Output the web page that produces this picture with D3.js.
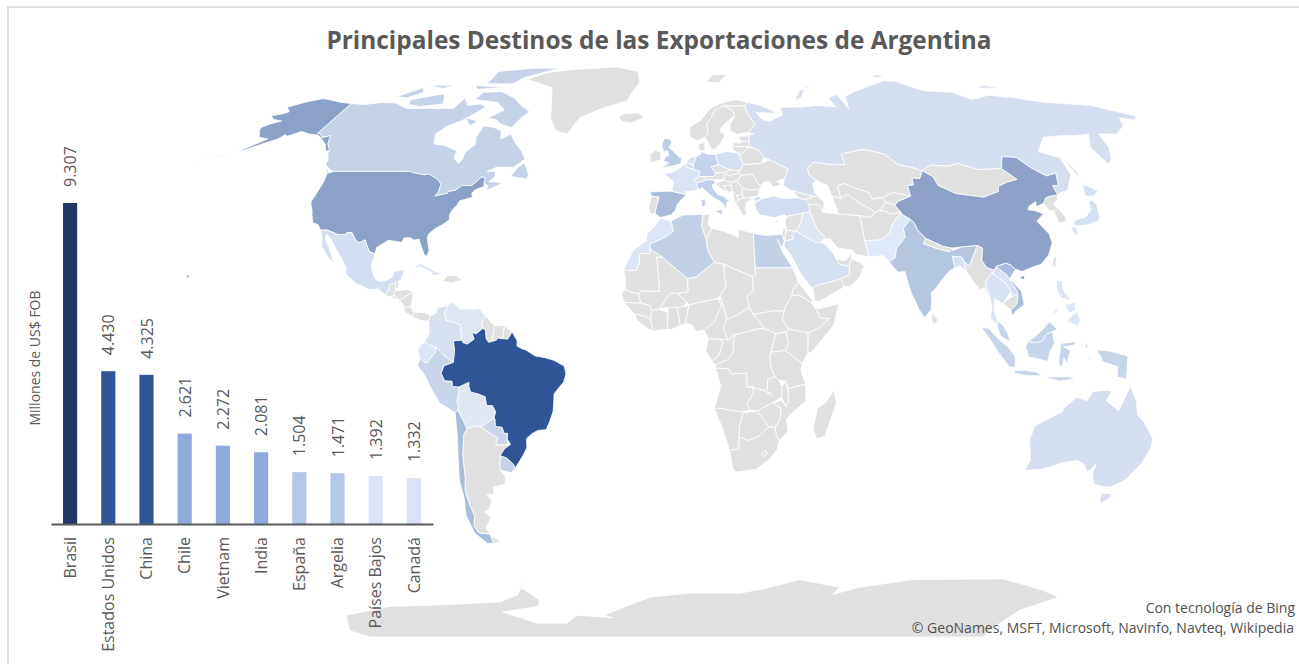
<!DOCTYPE html>
<html>
<head>
<meta charset="utf-8">
<script src="https://cdn.jsdelivr.net/npm/d3@7"></script>
<style>
  body { margin: 0; background: #fff; }
  svg { display: block; font-family: "Open Sans", "Noto Sans", sans-serif; }
  .map { filter: blur(0.5px); }
</style>
</head>
<body>
<svg id="chart" width="1299" height="664"></svg>
<script>
// bar chart values
const categories = ["Brasil", "Estados Unidos", "China", "Chile", "Vietnam", "India", "España", "Argelia", "Países Bajos", "Canadá"];
const exportValues = [9307, 4430, 4325, 2621, 2272, 2081, 1504, 1471, 1392, 1332];
const barColors = ["#1f3864", "#2f5597", "#2f5597", "#8faadc", "#8faadc", "#8faadc", "#b4c7e7", "#b4c7e7", "#dae3f3", "#dae3f3"];

// country shading, everything else is the no-data grey
const shadeByCountry = {
  Brasil: "#2f5597", USA: "#8aa2c8", China: "#8ea2c9", Canada: "#c5d2e8", Russia: "#d5deef", India: "#b4c6e0",
  Spain: "#aabcdc", Chile: "#a9bedf", Algeria: "#c2d0e8", Germany: "#c5d3ea", Poland: "#d4dff0", France: "#dae3f3",
  Mexico: "#d3dff0", Australia: "#d5deef", Peru: "#c9d5ea", Colombia: "#d7e0ef", Venezuela: "#dde5f3", Ecuador: "#dce5f4",
  Bolivia: "#dfe6f4", Paraguay: "#c9d6eb", Uruguay: "#c5d3ea", Egypt: "#c2d0e8", Saudi: "#d4dff0", Iraq: "#dde5f3",
  Turkey: "#d1dcef", Morocco: "#dce5f4", Pakistan: "#dfe8f6", Indonesia: "#c7d5ea", Malaysia: "#c5d3ea", Vietnam: "#a6bce0",
  Thailand: "#d8e2f3", Philippines: "#dde6f4", Japan: "#d5e0f2", UK: "#bccde8", Italy: "#c0d0e8", Netherlands: "#d8e0f0",
  Bangladesh: "#d5e0f3", Belgium: "#d3def0", Cuba: "#dce5f4", Hawaii: "#8aa2c8", Laos: "#d8e2f3", Hainan: "#8ea2c9"
};

// rough country outlines, [lon, lat]
const antarcticaShapes = [
  ["Antarctica", [[-180, -85.5], [-162, -78.4], [-133.5, -75.1], [-103, -74.4], [-80.5, -73.5], [-70.6, -71.2], [-60, -64], [-67, -68.6], [-62, -72.9], [-64.6, -75.1], [-83.7, -77.2], [-72.4, -81.8], [-57, -81.8], [-49, -78.4], [-32, -79.4], [-36, -78.4], [-12, -71.9], [5.7, -70.5], [27.6, -70.5], [38.6, -68.9], [51, -66.1], [69.6, -68.6], [68.7, -70.9], [78, -68.6], [98, -66.1], [135.5, -65.9], [158, -69.5], [170, -71.9], [163, -76.5], [172, -86], [180, -90], [-180, -90]]]
];

const northAmericaShapes = [
  ["Greenland", [[-73, 78.2], [-66, 81], [-55, 82.3], [-32, 83.6], [-20, 81.5], [-18, 77], [-20, 74], [-22, 70.5], [-32, 68], [-40, 65], [-43, 60], [-48, 61], [-52, 65], [-54, 69], [-58, 75]]],
  ["Iceland", [[-24, 65.5], [-22, 66.4], [-16, 66.5], [-13.5, 65], [-18.7, 63.4], [-22.5, 63.9]]],
  ["Canada", [[-141, 69.6], [-135, 69.3], [-128, 70], [-122, 69.8], [-115, 68], [-108, 68], [-100, 68], [-95, 68], [-94, 71.5], [-90, 69], [-85, 69.5], [-81.5, 68.5], [-85, 66], [-87, 64.5], [-92, 62.5], [-94.5, 60], [-92.5, 57], [-88, 56.5], [-82.5, 55], [-82, 52.8], [-79.5, 51.3], [-78.7, 52.5], [-79, 54.5], [-76.7, 57], [-78, 59], [-77.5, 62.5], [-73, 62], [-69.5, 61], [-68, 58.5], [-65, 60], [-62, 57.5], [-58, 54.8], [-55.8, 52.5], [-59, 50.2], [-65, 50.2], [-68, 49], [-65, 49], [-64.5, 47.5], [-66, 46], [-64, 46], [-61, 45.8], [-63.5, 44.6], [-66, 43.6], [-66, 45], [-67.5, 45.3], [-67.8, 47.1], [-69.2, 47.4], [-70.3, 46.2], [-71.5, 45], [-75, 45], [-76.8, 43.6], [-79, 43.3], [-79, 42.8], [-83.1, 42], [-82.4, 43], [-82.5, 45.3], [-83.5, 46.1], [-84.9, 46.9], [-88.4, 48.3], [-89.6, 48], [-92, 48.3], [-94.6, 48.7], [-95.2, 49], [-122.8, 49], [-124.5, 49.5], [-127.5, 51], [-128, 52.5], [-130, 54.3], [-130, 55], [-133, 57], [-135, 59.5], [-137.5, 58.9], [-139, 59.8], [-141, 60.3]]],
  ["Canada", [[-80, 73.7], [-72, 71.5], [-67, 69], [-62, 67], [-64, 65], [-66, 62], [-71, 63], [-74, 64.5], [-78, 65], [-73, 67.5], [-78, 70], [-89, 71], [-88, 73.5]]],
  ["Canada", [[-117, 71], [-105, 73], [-101, 69.5], [-110, 68.7], [-116, 69.3]]],
  ["Canada", [[-125, 72], [-118, 75], [-115, 73.5], [-120, 71.5]]],
  ["Canada", [[-90, 76.5], [-78, 76.5], [-75, 79], [-65, 82], [-62, 83], [-75, 83], [-92, 81.5]]],
  ["Canada", [[-95, 76], [-80, 75], [-92, 74.5]]],
  ["Canada", [[-118, 76], [-105, 76], [-108, 74.8]]],
  ["Canada", [[-59, 47.6], [-53, 46.8], [-52.8, 48], [-55.5, 51.5], [-57.5, 50]]],
  ["Canada", [[-87, 65], [-81, 64], [-83, 62.5]]],
  ["Canada", [[-128.3, 50.7], [-123.5, 48.4], [-125, 48.7]]],
  ["USA", [[-141, 69.6], [-141, 60.3], [-139, 59.8], [-137.5, 58.9], [-135, 59.5], [-133, 57], [-130, 55], [-131.5, 55], [-134, 57], [-136.5, 58.2], [-140, 59.7], [-144, 60], [-148, 60.8], [-151.5, 59.3], [-153, 59.8], [-154, 58.5], [-158, 57], [-162, 55.2], [-164.5, 54.6], [-162, 56], [-158, 58.5], [-162, 59], [-165, 61], [-166, 62], [-164, 63.2], [-161, 64], [-165, 64.5], [-168, 65.6], [-164, 66.5], [-163, 67], [-166.5, 68.4], [-162, 70], [-156.5, 71.3], [-152, 70.8], [-146, 70]]],
  ["USA", [[-164.5, 54.6], [-170, 53], [-178, 51.6], [-172, 52.7]]],
  ["USA", [[-124.7, 48.4], [-122.8, 49], [-95.2, 49], [-94.6, 48.7], [-92, 48.3], [-89.6, 48], [-88.4, 48.3], [-84.9, 46.9], [-83.5, 46.1], [-82.5, 45.3], [-82.4, 43], [-83.1, 42], [-79, 42.8], [-79, 43.3], [-76.8, 43.6], [-75, 45], [-71.5, 45], [-70.3, 46.2], [-69.2, 47.4], [-67.8, 47.1], [-67.5, 45.3], [-67, 44.8], [-70, 43.7], [-70.7, 42.7], [-70, 41.7], [-72, 41.2], [-74, 40.6], [-74.5, 39.3], [-75.5, 38.2], [-76, 37], [-75.6, 35.3], [-77.5, 34], [-79.5, 33], [-81.2, 31.5], [-81.4, 30.3], [-80, 26.8], [-80.5, 25.2], [-81.5, 25.9], [-82.8, 28], [-84, 30], [-85.5, 29.7], [-87, 30.4], [-89, 30.3], [-89.3, 29.1], [-91, 29.3], [-93.8, 29.7], [-95, 29], [-97.2, 27.7], [-97.2, 25.9], [-99.2, 26.5], [-100.5, 28.3], [-101.5, 29.8], [-103, 29], [-104.5, 29.6], [-106.5, 31.8], [-108.2, 31.8], [-108.2, 31.3], [-111, 31.3], [-114.8, 32.5], [-117.1, 32.5], [-118.5, 34], [-120.6, 34.6], [-122, 36.8], [-122.5, 37.8], [-123.8, 39.5], [-124.4, 40.4], [-124.2, 42], [-124, 46]]],
  ["Hawaii", [[-156, 20.2], [-155, 19.7], [-155.7, 19]]],
  ["Mexico", [[-117.1, 32.5], [-114.8, 32.5], [-111, 31.3], [-108.2, 31.3], [-108.2, 31.8], [-106.5, 31.8], [-104.5, 29.6], [-103, 29], [-101.5, 29.8], [-100.5, 28.3], [-99.2, 26.5], [-97.2, 25.9], [-97.8, 22.5], [-96, 19], [-94.5, 18.2], [-92, 18.6], [-90.5, 19.5], [-90.3, 21], [-87, 21.5], [-87.7, 18.5], [-88.2, 18.4], [-89.2, 17.9], [-91, 17.2], [-91, 16], [-92.2, 14.5], [-94.5, 16.2], [-97, 15.9], [-101.5, 17.5], [-105.5, 20.3], [-105.6, 22], [-109, 26], [-112.7, 30], [-114.7, 31.6], [-114.5, 30], [-112.5, 27.5], [-110.3, 24], [-109.5, 23], [-112, 24.8], [-115, 28], [-116, 31]]],
  ["Guatemala", [[-92.2, 14.5], [-91, 16], [-91, 17.2], [-89.2, 17.9], [-89, 15.9], [-88.2, 15.7], [-89.3, 14.4], [-90.5, 13.9]]],
  ["Belize", [[-89.2, 17.9], [-88.2, 18.4], [-88.3, 16.5], [-89, 15.9]]],
  ["Honduras", [[-89, 15.9], [-88.2, 15.7], [-85, 16], [-83.2, 15], [-84.5, 14.7], [-87.3, 13], [-87.7, 13.2], [-89.3, 14.4]]],
  ["Salvador", [[-90.1, 13.7], [-89.3, 14.4], [-87.7, 13.2]]],
  ["Nicaragua", [[-87.3, 13], [-84.5, 14.7], [-83.2, 15], [-83.7, 11], [-85.7, 11.1]]],
  ["CostaRica", [[-85.7, 11.1], [-83.7, 11], [-82.6, 9.6], [-83, 8.4], [-85.7, 9.9]]],
  ["Panama", [[-83, 8.4], [-82.6, 9.6], [-79.5, 9.6], [-77.3, 8.7], [-77.9, 7.2], [-80, 7.3], [-81.5, 7.8]]],
  ["Cuba", [[-85, 21.9], [-82, 23.2], [-77, 21], [-74.2, 20.2], [-77.7, 19.9], [-78, 20.7], [-82, 22.3]]],
  ["Haiti", [[-74.4, 18.4], [-73, 19.9], [-70, 19.8], [-68.4, 18.6], [-71.5, 17.7]]]
];

const southAmericaShapes = [
  ["Colombia", [[-71.5, 12.4], [-72.5, 11.2], [-75, 11], [-75.7, 9.4], [-77.3, 8.7], [-77.9, 7.2], [-77.5, 4], [-78.8, 1.4], [-77.1, 0.4], [-75.3, -0.1], [-74, -1.2], [-73, -2.3], [-70, -4.3], [-69.5, -1], [-69.9, 1.7], [-67.2, 1.9], [-67.8, 6.2], [-70, 6.9], [-72.4, 7.4], [-72.9, 9.5]]],
  ["Venezuela", [[-71.5, 12.4], [-70, 12.1], [-68, 10.6], [-64, 10.5], [-62, 10.7], [-60, 8.5], [-61.2, 6.7], [-60.7, 5.2], [-62.9, 3.6], [-64.2, 4.1], [-63.4, 2.2], [-65.5, 0.8], [-66.9, 1.2], [-67.2, 1.9], [-67.8, 6.2], [-70, 6.9], [-72.4, 7.4], [-72.9, 9.5]]],
  ["Guyana", [[-60, 8.5], [-57.2, 6], [-57.3, 4], [-58, 1.5], [-58.9, 1.3], [-59.7, 2.3], [-59.9, 4.5], [-60.7, 5.2], [-61.2, 6.7]]],
  ["Suriname", [[-57.2, 6], [-54, 5.9], [-54.6, 2.3], [-55.9, 2.5], [-56.5, 1.9], [-58, 1.5], [-57.3, 4]]],
  ["Guiana", [[-54, 5.9], [-51.6, 4.2], [-52.9, 2.2], [-54.6, 2.3]]],
  ["Ecuador", [[-78.8, 1.4], [-77.1, 0.4], [-75.3, -0.1], [-75.5, -1.5], [-78.4, -4.5], [-80.3, -3.4], [-81, -1], [-80, 0.7]]],
  ["Peru", [[-75.3, -0.1], [-74, -1.2], [-73, -2.3], [-70, -4.3], [-72.9, -5.2], [-73.9, -7.3], [-72.9, -9.4], [-70.6, -9.5], [-70.6, -11], [-68.6, -11.1], [-68.6, -12.5], [-69.5, -15.4], [-69, -16.5], [-69.5, -17.5], [-70.4, -18.3], [-75, -15.5], [-77, -12.2], [-79, -8], [-81.3, -5], [-80.3, -3.4], [-78.4, -4.5], [-75.5, -1.5]]],
  ["Bolivia", [[-68.6, -11.1], [-65.3, -9.8], [-65.4, -10.9], [-65, -12.5], [-62.8, -13], [-60.5, -13.8], [-60.2, -16.3], [-58.4, -16.3], [-57.5, -18], [-58.2, -19.8], [-62.6, -22.2], [-65, -22.1], [-67.2, -22.8], [-68.3, -20], [-69.5, -17.5], [-69, -16.5], [-69.5, -15.4], [-68.6, -12.5]]],
  ["Paraguay", [[-58.2, -19.8], [-57.9, -20], [-58, -22.1], [-55.9, -22.3], [-55.4, -24], [-54.3, -24], [-54.6, -25.6], [-54.7, -27.2], [-58.6, -27.3], [-57.6, -25.3], [-60, -24], [-62.6, -22.2]]],
  ["Uruguay", [[-58.4, -33.5], [-57.6, -30.2], [-55.6, -30.9], [-53.7, -32.6], [-53.4, -33.7], [-54.9, -35], [-58.4, -34.2]]],
  ["Chile", [[-70.4, -18.3], [-69.5, -17.5], [-68.3, -20], [-67.2, -22.8], [-68.4, -24.5], [-69.7, -30], [-70.5, -36], [-71.8, -40], [-71.8, -44], [-71.5, -47], [-73, -50], [-72.3, -52], [-68.5, -52.3], [-68.6, -54.9], [-66.5, -55.2], [-71, -55], [-74, -52], [-74.5, -47], [-73, -42], [-72.8, -37], [-71.5, -31], [-70.5, -25]]],
  ["Argentina", [[-65, -22.1], [-62.6, -22.2], [-60, -24], [-57.6, -25.3], [-58.6, -27.3], [-54.7, -27.2], [-53.8, -27.1], [-55.9, -28.3], [-57.6, -30.2], [-58.4, -33.5], [-58.4, -34.2], [-57.2, -36], [-57.6, -38], [-62, -39], [-62.5, -41], [-65, -41], [-63.7, -42.5], [-65.3, -45], [-67.5, -46], [-65.8, -47.5], [-69, -50.5], [-68.5, -52.3], [-72.3, -52], [-73, -50], [-71.5, -47], [-71.8, -44], [-71.8, -40], [-70.5, -36], [-69.7, -30], [-68.4, -24.5], [-67.2, -22.8]]],
  ["Argentina", [[-68.6, -52.7], [-65.2, -54.7], [-68.6, -54.9]]],
  ["Brasil", [[-60.7, 5.2], [-59.9, 4.5], [-59.7, 2.3], [-58.9, 1.3], [-58, 1.5], [-56.5, 1.9], [-55.9, 2.5], [-54.6, 2.3], [-52.9, 2.2], [-51.6, 4.2], [-50, 1.8], [-50, 0.3], [-48.5, -0.5], [-47.5, -0.7], [-44.3, -2.5], [-41.5, -2.9], [-38.5, -3.7], [-35.3, -5.3], [-34.8, -7.5], [-35.6, -9.8], [-37.3, -11.5], [-38.7, -13], [-39, -16], [-39.3, -18], [-40.7, -21], [-41.9, -23], [-44.5, -23.2], [-46.5, -24.1], [-48.4, -25.5], [-48.6, -28], [-50, -30], [-52, -32.2], [-53.4, -33.7], [-53.7, -32.6], [-55.6, -30.9], [-57.6, -30.2], [-55.9, -28.3], [-53.8, -27.1], [-54.6, -25.6], [-54.3, -24], [-55.4, -24], [-55.9, -22.3], [-58, -22.1], [-57.9, -20], [-58.2, -19.8], [-57.5, -18], [-58.4, -16.3], [-60.2, -16.3], [-60.5, -13.8], [-62.8, -13], [-65, -12.5], [-65.4, -10.9], [-65.3, -9.8], [-68.6, -11.1], [-70.6, -11], [-70.6, -9.5], [-72.9, -9.4], [-73.9, -7.3], [-72.9, -5.2], [-70, -4.3], [-69.5, -1], [-69.9, 1.7], [-67.2, 1.9], [-66.9, 1.2], [-65.5, 0.8], [-63.4, 2.2], [-64.2, 4.1], [-62.9, 3.6]]]
];

const europeShapes = [
  ["Spain", [[-9.2, 43.2], [-1.8, 43.4], [3.2, 42.4], [0.2, 39.8], [-0.6, 38], [-2, 36.8], [-5.5, 36], [-7.4, 37.2], [-7, 38.9], [-6.2, 41.7], [-8.8, 42]]],
  ["Portugal", [[-8.8, 42], [-6.2, 41.7], [-7, 38.9], [-7.4, 37.2], [-9, 37], [-9.5, 38.8]]],
  ["France", [[-4.7, 48.4], [-1.7, 48.7], [1.5, 50.2], [2.5, 51], [4.2, 50], [6, 49.6], [8.2, 49], [7.6, 47.6], [6, 46.3], [6.8, 45.8], [7.5, 43.8], [3, 43.2], [3.2, 42.4], [-1.8, 43.4], [-1.2, 46]]],
  ["Belgium", [[2.5, 51], [4, 51.4], [5.9, 50.7], [6, 49.6], [4.2, 50]]],
  ["Netherlands", [[3.5, 51.5], [4.8, 53], [7.1, 53.3], [6, 51], [4, 51.4]]],
  ["Germany", [[6, 51], [7.1, 53.3], [8.8, 54], [9, 54.9], [11, 54], [14.2, 53.9], [15, 51], [12.3, 50.2], [13.8, 48.6], [13, 47.5], [9.6, 47.5], [7.6, 47.6], [8.2, 49], [6, 49.6], [5.9, 50.7]]],
  ["Switzerland", [[6, 46.3], [7.6, 47.6], [9.6, 47.5], [10.4, 46.6], [8.5, 46], [6.8, 45.8]]],
  ["Denmark", [[8.2, 55.5], [9, 54.9], [10.5, 55], [10.5, 57.5], [8.2, 57]]],
  ["Austria", [[9.6, 47.5], [13, 47.5], [13.8, 48.6], [17, 48.7], [16.5, 46.8], [12.5, 46.6], [10.4, 46.6]]],
  ["Italy", [[7.5, 43.8], [6.8, 45.8], [8.5, 46], [10.4, 46.6], [12.5, 46.6], [13.7, 45.7], [12.3, 45.2], [12.6, 44], [14, 42.5], [16, 41.9], [18.4, 40.2], [17, 40.5], [16.6, 38.9], [15.8, 38], [16, 39.5], [14.5, 40.6], [12.3, 41.7], [10.5, 43], [8.8, 44.4]]],
  ["Italy", [[12.5, 38], [15.5, 38.2], [15, 36.7]]],
  ["Italy", [[8.2, 41], [9.7, 41], [9.5, 39.2], [8.4, 39]]],
  ["UK", [[-5, 58.6], [-3, 58.6], [-2, 57.6], [-3, 56], [-1.3, 54.8], [0.3, 53.5], [1.7, 52.7], [1.3, 51.2], [-1, 50.7], [-5.5, 50], [-3, 51.5], [-5, 52], [-4.2, 53.2], [-3, 53.6], [-3.5, 54.9], [-5, 54.8], [-5.8, 56.5]]],
  ["Ireland", [[-10, 54], [-8, 55.2], [-6, 54.5], [-6, 52.3], [-9.8, 51.5]]],
  ["Poland", [[14.2, 53.9], [18.5, 54.8], [23, 54.3], [24, 51], [22.5, 49.1], [19, 49.4], [15, 51]]],
  ["Czechia", [[12.3, 50.2], [15, 51], [19, 49.4], [17, 48.7], [13.8, 48.6]]],
  ["Slovakia", [[17, 48.7], [19, 49.4], [22.5, 49.1], [22, 48.4], [18, 47.8]]],
  ["Hungary", [[16.5, 46.8], [17, 48.7], [18, 47.8], [22, 48.4], [22.8, 47.9], [21, 46.2], [18.8, 45.9], [16.5, 46.4]]],
  ["Romania", [[22.8, 47.9], [27, 48.2], [28.2, 45.5], [29.5, 45], [28.6, 43.8], [25, 43.7], [22.7, 44.2], [21, 46.2]]],
  ["Bulgaria", [[22.7, 44.2], [25, 43.7], [28.6, 43.8], [27.6, 42], [24, 41.5], [22.8, 41.5], [22.4, 42.5]]],
  ["Croatia", [[13.7, 45.7], [16.5, 46.4], [18.8, 45.9], [19, 44.9], [16, 45], [17.8, 43], [15.5, 44], [13.6, 45.2]]],
  ["Bosnia", [[16, 45], [19, 44.9], [19.2, 43.3], [17.8, 43]]],
  ["Serbia", [[18.8, 45.9], [21, 46.2], [22.7, 44.2], [22.4, 42.5], [20.5, 42.2], [19.2, 43.3], [19, 44.9]]],
  ["Albania", [[19.2, 43.3], [20.5, 42.2], [21, 40.9], [19.8, 39.8], [19.4, 41.5]]],
  ["Macedonia", [[20.5, 42.2], [22.4, 42.5], [22.8, 41.5], [21, 40.9]]],
  ["Greece", [[19.8, 39.8], [21, 40.9], [22.8, 41.5], [24, 41.5], [26.3, 41.5], [23.5, 40.3], [23, 38.5], [23.2, 36.5], [21.7, 36.8], [21, 38.5]]],
  ["Ukraine", [[24, 51], [30.5, 51.3], [34, 52.3], [40, 49.7], [38, 47], [35, 46.2], [36.5, 45.3], [33.5, 44.5], [32.5, 46], [30.5, 46], [29.5, 45], [28.2, 45.5], [27, 48.2], [22.8, 47.9], [22, 48.4], [22.5, 49.1]]],
  ["Belarus", [[23, 54.3], [24, 54], [26.6, 55.7], [28, 56], [31, 55], [32, 53], [30.5, 51.3], [24, 51]]],
  ["Lithuania", [[21, 55.3], [21, 56.3], [26, 56.3], [26.6, 55.7], [24, 54], [23, 54.3]]],
  ["Latvia", [[21, 56.3], [21.5, 57.5], [24.3, 57.2], [24.5, 58], [27.5, 57.6], [28, 56], [26, 56.3]]],
  ["Estonia", [[23.5, 59.2], [28, 59.5], [27.5, 57.6], [24.5, 58]]],
  ["Norway", [[5, 59], [5, 62], [10, 64.5], [14, 68], [20, 70], [26, 71], [31, 70], [29, 69], [25, 68.7], [20, 69], [16, 67.5], [14, 65], [12, 63], [12.2, 60.5], [11, 59], [8, 58]]],
  ["Sweden", [[11, 59], [12.2, 60.5], [12, 63], [14, 65], [16, 67.5], [20, 69], [23.5, 67.5], [24, 65.8], [21.5, 64.5], [17.5, 62], [17.2, 60.5], [18.8, 59.8], [16.5, 57], [14.3, 55.5], [13, 55.4]]],
  ["Finland", [[23.5, 67.5], [20, 69], [25, 68.7], [29, 69], [29.5, 66.5], [31.5, 62.8], [28, 60.5], [23, 59.9], [21, 61], [21.5, 63], [24, 65.8]]],
  ["Svalbard", [[14, 77], [18, 80], [25, 80], [20, 77]]]
];

const africaShapes = [
  ["Morocco", [[-5.9, 35.8], [-2, 35.1], [-1.2, 32.2], [-3, 31], [-5.5, 29.8], [-8.7, 28.7], [-8.7, 26], [-12, 26], [-12, 23.5], [-13, 21.3], [-17, 21.3], [-16, 23.5], [-14.5, 26.2], [-13, 27.7], [-10, 29.5], [-9.8, 31.5], [-6.8, 34]]],
  ["Algeria", [[-2, 35.1], [2, 36.7], [8.6, 36.9], [8.2, 33.5], [9.5, 30], [9.9, 27], [12, 23.5], [6, 19.5], [3.3, 19], [-4.8, 25], [-8.7, 27.3], [-8.7, 28.7], [-5.5, 29.8], [-3, 31], [-1.2, 32.2]]],
  ["Tunisia", [[8.6, 36.9], [11, 37], [10.2, 34.3], [11.5, 33], [9.5, 30], [8.2, 33.5]]],
  ["Libya", [[11.5, 33], [15, 32.3], [20, 30.5], [20, 32.8], [25, 31.6], [25, 20], [24, 19.5], [15, 23], [12, 23.5], [9.9, 27], [9.5, 30]]],
  ["Egypt", [[25, 31.6], [29, 31], [32.3, 31.2], [34.3, 31.3], [34.9, 29.5], [33.8, 27.8], [32.6, 30], [34, 26.5], [37, 22], [31.5, 22], [25, 22]]],
  ["Sudan", [[25, 22], [31.5, 22], [37, 22], [38.5, 18], [36.8, 16], [36.2, 14.3], [34, 11], [33.7, 10], [30, 10], [27, 9.5], [24, 9], [22.8, 11], [22, 14], [24, 15.7], [24, 19.5], [25, 20]]],
  ["SouthSudan", [[24, 9], [27, 9.5], [30, 10], [33.7, 10], [33, 7.7], [35, 5], [34, 4.2], [31, 3.7], [27.4, 5.1]]],
  ["Chad", [[15, 23], [24, 19.5], [24, 15.7], [22, 14], [22.8, 11], [19, 9], [15.5, 7.5], [15, 9.9], [14, 13], [13.5, 14.3], [15.5, 16.9], [15, 20]]],
  ["Niger", [[3.3, 19], [6, 19.5], [12, 23.5], [15, 23], [15, 20], [15.5, 16.9], [13.5, 14.3], [13, 13.5], [9, 12.8], [3.7, 11.7], [3, 12.5], [0.2, 14.9], [3.5, 15.4]]],
  ["Mali", [[-4.8, 25], [3.3, 19], [3.5, 15.4], [0.2, 14.9], [-2, 15], [-5.5, 10.5], [-8, 10.2], [-8.5, 11.5], [-11.4, 12.2], [-12.2, 14.7], [-11.4, 15.6], [-5.5, 15.5], [-6.5, 25]]],
  ["Mauritania", [[-17, 21.3], [-13, 21.3], [-12, 23.5], [-12, 26], [-8.7, 26], [-8.7, 27.3], [-4.8, 25], [-6.5, 25], [-5.5, 15.5], [-11.4, 15.6], [-12.2, 14.7], [-16.5, 16], [-16.3, 19]]],
  ["Senegal", [[-16.5, 16], [-12.2, 14.7], [-11.4, 12.2], [-16.7, 12.4], [-17.5, 14.7]]],
  ["Guinea", [[-16.7, 12.4], [-11.4, 12.2], [-8.5, 11.5], [-8, 10.2], [-8.3, 7.6], [-10, 8.5], [-13.3, 9.2]]],
  ["Liberia", [[-13.3, 9.2], [-10, 8.5], [-8.3, 7.6], [-7.5, 4.4], [-9, 5], [-12.5, 7.4]]],
  ["Ivory", [[-8.3, 7.6], [-8, 10.2], [-5.5, 10.5], [-2.8, 9.5], [-3, 5], [-7.5, 4.4]]],
  ["Burkina", [[-5.5, 10.5], [-2, 15], [0.2, 14.9], [3, 12.5], [2.2, 11.2], [0, 11], [-2.8, 11]]],
  ["Ghana", [[-2.8, 11], [0, 11], [1.1, 6], [-2, 4.8], [-3, 5], [-2.8, 9.5]]],
  ["Benin", [[0, 11], [2.2, 11.2], [3.7, 11.7], [2.7, 6.4], [1.1, 6]]],
  ["Nigeria", [[2.7, 6.4], [3.7, 11.7], [9, 12.8], [13, 13.5], [14, 11.5], [11.5, 6.8], [8.5, 4.7], [6, 4.3], [4.5, 6.3]]],
  ["Cameroon", [[8.5, 4.7], [11.5, 6.8], [14, 11.5], [13, 13.5], [14, 13], [15, 9.9], [15.5, 7.5], [14.5, 5], [16, 2], [13, 2.2], [9.8, 2.3]]],
  ["CAR", [[14.5, 5], [15.5, 7.5], [19, 9], [22.8, 11], [24, 9], [27.4, 5.1], [25, 5], [19, 3.5], [18, 3.5], [16, 2]]],
  ["Gabon", [[9.8, 2.3], [13, 2.2], [14.4, 1.4], [13, -2.5], [11, -3.9], [9, -1]]],
  ["Congo", [[13, 2.2], [16, 2], [18, 3.5], [17.5, -1.5], [16, -3.5], [12, -5], [11, -3.9], [13, -2.5], [14.4, 1.4]]],
  ["DRC", [[12, -5.9], [12, -5], [16, -3.5], [17.5, -1.5], [18, 3.5], [19, 3.5], [25, 5], [27.4, 5.1], [31, 3.7], [29.6, -0.5], [29, -2.8], [29.5, -6], [30.7, -8.2], [28.5, -9], [28.4, -12], [29.8, -13.4], [27.2, -12], [22, -11], [21.8, -7.3], [17, -7.5], [16, -6]]],
  ["Uganda", [[31, 3.7], [34, 4.2], [34.9, 1], [33.9, -1], [29.6, -1.4], [29.6, -0.5]]],
  ["Kenya", [[34, 4.2], [35, 5], [41, 3.9], [41, -1.7], [39.2, -4.6], [33.9, -1], [34.9, 1]]],
  ["Ethiopia", [[33, 7.7], [33.7, 10], [34, 11], [36.2, 14.3], [38.5, 14.5], [42, 12.5], [43, 11.5], [45, 8], [48, 8], [44, 5], [41, 3.9], [35, 5]]],
  ["Eritrea", [[36.2, 14.3], [36.8, 16], [38.5, 18], [43, 12.7], [42, 12.5], [38.5, 14.5]]],
  ["Somalia", [[43, 11.5], [44, 10.5], [51, 12], [49, 6], [42, -1.5], [41, -1.7], [41, 3.9], [44, 5], [48, 8], [45, 8]]],
  ["Tanzania", [[29.6, -1.4], [33.9, -1], [39.2, -4.6], [38.8, -6.5], [40.4, -10.4], [35, -11.5], [34, -9.5], [32, -9.3], [30.7, -8.2], [29.5, -6], [29, -2.8]]],
  ["Angola", [[12, -5.9], [16, -6], [17, -7.5], [21.8, -7.3], [22, -11], [24, -11], [24, -13], [22, -16], [23.3, -17.6], [20, -18], [13, -17], [11.8, -17.2], [13.7, -11], [13, -8.5]]],
  ["Zambia", [[22, -11], [27.2, -12], [29.8, -13.4], [28.4, -12], [28.5, -9], [30.7, -8.2], [32, -9.3], [33, -11], [33, -14], [30.2, -15.5], [28, -16.5], [25.5, -17.8], [23.3, -17.6], [22, -16], [24, -13], [24, -11]]],
  ["Namibia", [[11.8, -17.2], [13, -17], [20, -18], [25, -17.8], [21, -18.3], [20, -22], [20, -28.4], [17, -28.7], [14.5, -22.5]]],
  ["Botswana", [[21, -18.3], [25.5, -17.8], [29.3, -22.2], [26, -25], [23, -26], [20, -25], [20, -22]]],
  ["Zimbabwe", [[25.5, -17.8], [28, -16.5], [30.2, -15.5], [33, -17], [32.8, -20], [31.3, -22.4], [29.3, -22.2]]],
  ["Mozambique", [[35, -11.5], [40.4, -10.4], [40.7, -15], [37, -18], [34.8, -20], [35.5, -23.5], [32.9, -26], [32, -25], [31.3, -22.4], [32.8, -20], [33, -17], [30.2, -15.5], [33, -14.8], [34.4, -16.5], [35.2, -15], [34.9, -11.8]]],
  ["Malawi", [[33, -11], [34, -9.5], [34.9, -11.8], [35.2, -15], [34.4, -16.5], [33, -14]]],
  ["SouthAfrica", [[17, -28.7], [20, -28.4], [20, -25], [23, -26], [26, -25], [29.3, -22.2], [31.3, -22.4], [32, -25], [32.9, -26], [32.5, -28.5], [30, -31.5], [26, -34], [20, -34.8], [18.4, -34], [18, -32]]],
  ["Lesotho", [[27.5, -29.5], [29, -28.8], [29.4, -29.7], [28, -30.5]]],
  ["Madagascar", [[49.3, -12], [50.4, -15.5], [47.5, -24.8], [45, -25.5], [43.5, -23], [44.5, -17], [47, -15.5]]]
];

const asiaShapes = [
  ["Turkey", [[26.3, 40], [29, 41.2], [33, 42], [36, 41.3], [41.5, 41.5], [43.5, 41], [44.8, 39.7], [44.5, 37.5], [42, 37.2], [36.5, 36.3], [36, 36.8], [32.5, 36], [30.5, 36.3], [27.5, 36.8], [26.5, 38.5]]],
  ["Turkey", [[26.3, 41.5], [28, 42], [29, 41.2], [26.3, 40.5]]],
  ["Russia", [[28, 59.5], [30, 60], [28, 60.5], [31.5, 62.8], [29.5, 66.5], [29, 69], [31, 70], [36, 69], [41, 67], [41, 66.5], [33, 66.7], [35, 64.3], [38, 64], [40, 64.7], [44, 66], [44, 68.4], [54, 68.5], [60, 69], [68, 68.5], [67, 71.5], [72, 72.8], [73, 68], [75, 72], [80, 73.5], [87, 75], [100, 77.7], [105, 77.5], [113, 74], [125, 73.5], [130, 71], [140, 72.5], [150, 71.5], [160, 70], [170, 69.5], [178, 69], [185, 67], [190, 65.5], [187, 64.3], [182, 65], [179, 62.5], [172, 60], [165, 60], [163, 56], [160, 53], [156.7, 51], [156, 56], [161, 60], [155, 59.5], [150, 59.5], [142, 59], [135, 54.7], [141, 53], [140, 48], [135, 43.5], [132, 43], [130.7, 42.3], [131, 45], [133, 45], [135, 48.5], [131, 47.7], [127.5, 50], [125, 53], [120, 53.3], [116.7, 49.8], [108, 49.5], [102, 51.3], [98, 50.5], [92, 50.8], [87.8, 49.2], [85, 50], [80, 51], [77, 54], [71, 55.3], [69, 55.3], [61, 54], [61, 51], [55, 51], [50, 51.7], [47, 50], [47, 48], [49, 46.5], [47.5, 45.5], [47.5, 43], [48.5, 41.8], [46, 42], [40, 43.5], [37, 45], [38, 47], [40, 49.7], [34, 52.3], [32, 53], [31, 55], [28, 56], [27.5, 57.6]]],
  ["Russia", [[142, 54], [143, 49], [142.5, 46], [142, 49]]],
  ["Russia", [[52, 71], [56, 74], [68, 77], [60, 75.5], [55, 71.5]]],
  ["Russia", [[96, 79], [103, 79], [100, 80]]],
  ["Russia", [[138, 75], [145, 76], [150, 74.8]]],
  ["Japan", [[130.9, 34], [132.5, 35.5], [136, 36], [139, 38], [140, 40.5], [141.5, 41], [142, 39.5], [140.8, 36], [139.5, 35], [136, 34], [132, 33.7]]],
  ["Japan", [[129.7, 33.3], [131.7, 33.5], [131, 31], [130, 31.5]]],
  ["Japan", [[140, 42], [141.7, 45.5], [145.5, 43.5], [143, 42]]],
  ["NorthKorea", [[124.3, 40], [126, 41.5], [128, 42], [130.7, 42.3], [129.7, 41], [127.5, 39.8], [128.4, 38.6], [126.7, 37.8], [125, 38]]],
  ["SouthKorea", [[126.7, 37.8], [128.4, 38.6], [129.5, 36], [129, 35], [126.3, 34.4], [126.5, 37]]],
  ["Taiwan", [[121, 25], [122, 25], [120.8, 22], [120.1, 23]]],
  ["Mongolia", [[87.8, 49.2], [92, 50.8], [98, 50.5], [102, 51.3], [108, 49.5], [116.7, 49.8], [119.9, 46.7], [116, 46], [112, 44.8], [111, 43.3], [105, 41.7], [96, 42.7], [91, 45], [90.7, 47.5]]],
  ["China", [[73.7, 39.4], [75, 40.5], [80, 42], [80.3, 45], [82.5, 45.2], [83, 47.2], [85.7, 47], [87.8, 49.2], [90.7, 47.5], [91, 45], [96, 42.7], [105, 41.7], [111, 43.3], [112, 44.8], [116, 46], [119.9, 46.7], [116.7, 49.8], [120, 53.3], [125, 53], [127.5, 50], [131, 47.7], [135, 48.5], [133, 45], [131, 45], [130.7, 42.3], [128, 42], [126, 41.5], [124.3, 40], [121.2, 39], [122, 40.5], [119, 39.2], [118, 38.2], [120.7, 37.8], [122.5, 37], [119.3, 35], [121.8, 31.5], [121.8, 29], [119.5, 25.5], [116.5, 23], [113.5, 22.2], [110, 21], [108, 21.6], [106.7, 22.8], [105.3, 23.3], [102, 22.4], [101.3, 21.3], [99, 22], [97.7, 24], [98.7, 27.5], [97.3, 28.2], [92, 27.8], [88.8, 27.5], [86, 28], [81, 30.2], [79, 32.5], [78.5, 34.5], [77.5, 35.5], [75.5, 36.7]]],
  ["Hainan", [[108.7, 19.2], [110.5, 20], [110.3, 18.7]]],
  ["Kazakhstan", [[47, 50], [50, 51.7], [55, 51], [61, 51], [61, 54], [69, 55.3], [71, 55.3], [77, 54], [80, 51], [85, 50], [87.8, 49.2], [85.7, 47], [83, 47.2], [82.5, 45.2], [80.3, 45], [80, 42], [74.5, 43], [70, 41.5], [66.5, 41.2], [66, 43], [61, 44.5], [58.5, 45.5], [56, 45], [56, 41.3], [53, 42], [52.5, 45], [49, 46.5], [47, 48]]],
  ["Uzbekistan", [[56, 45], [58.5, 45.5], [61, 44.5], [66, 43], [66.5, 41.2], [70, 41.5], [71, 40.3], [68, 38], [66.5, 37.5], [62, 40], [58.5, 42.5], [56, 41.3]]],
  ["Turkmenistan", [[53, 42], [56, 41.3], [58.5, 42.5], [62, 40], [66.5, 37.5], [64.5, 36], [61, 36.5], [54, 37], [53.5, 40]]],
  ["Kyrgyzstan", [[70, 41.5], [74.5, 43], [80, 42], [75, 40.5], [73.7, 39.4], [71, 40.3]]],
  ["Tajikistan", [[68, 38], [71, 40.3], [73.7, 39.4], [75, 37.3], [71.5, 37], [70, 37.7]]],
  ["Afghanistan", [[61, 36.5], [64.5, 36], [66.5, 37.5], [68, 38], [70, 37.7], [71.5, 37], [75, 37.3], [71, 34], [69.5, 31.5], [66.5, 29.8], [61, 29.5], [61, 32]]],
  ["Pakistan", [[61, 29.5], [66.5, 29.8], [69.5, 31.5], [71, 34], [75, 37.3], [75.5, 36.7], [77.5, 35.5], [74.5, 33], [74.5, 30.5], [71, 27.5], [70, 24.7], [68, 23.8], [66.5, 25.4], [61.6, 25.1]]],
  ["India", [[77.5, 35.5], [78.5, 34.5], [79, 32.5], [81, 30.2], [80, 28.7], [84, 27.4], [88, 26.5], [88.8, 27.5], [89, 26.8], [92, 27.8], [97.3, 28.2], [95, 25], [93.5, 22.5], [92, 23.7], [91.5, 25], [88.5, 25.2], [88.8, 22], [87, 21.3], [85, 19.5], [82, 16.5], [80.2, 15], [80.2, 13], [79.8, 10.3], [77.6, 8.1], [76, 10.5], [74, 15], [73, 19], [72.7, 21], [70.5, 20.8], [69, 22.3], [68, 23.8], [70, 24.7], [71, 27.5], [74.5, 30.5], [74.5, 33]]],
  ["Nepal", [[80, 28.7], [81, 30.2], [86, 28], [88.8, 27.5], [88, 26.5], [84, 27.4]]],
  ["Bangladesh", [[88.5, 25.2], [91.5, 25], [92, 23.7], [92.3, 21], [90.5, 22.5], [88.8, 22]]],
  ["SriLanka", [[80, 9.5], [81.8, 7.5], [80.6, 6], [79.8, 7.5]]],
  ["Iran", [[44.8, 39.7], [48, 39.5], [49, 37.5], [54, 37], [61, 36.5], [61, 32], [61, 29.5], [61.6, 25.1], [57.5, 25.7], [56.5, 27], [52, 27.5], [50, 30], [48.5, 30], [46, 33], [44.5, 37.5]]],
  ["Georgia", [[40, 43.5], [46, 42], [46.5, 41.5], [43.5, 41], [41.5, 41.5]]],
  ["Azerbaijan", [[46, 42], [48.5, 41.8], [50, 40.3], [49, 37.5], [48, 39.5], [44.8, 39.7], [43.5, 41], [46.5, 41.5]]],
  ["Iraq", [[42, 37.2], [44.5, 37.5], [46, 33], [48.5, 30], [47.7, 30], [46.5, 29], [44.7, 29.2], [39, 32.2], [41, 34.5]]],
  ["Syria", [[36.5, 36.3], [42, 37.2], [41, 34.5], [39, 32.2], [36, 32.5], [35.8, 35]]],
  ["Jordan", [[36, 32.5], [39, 32.2], [37.5, 31], [38, 30], [35, 29.5], [35.5, 31.5]]],
  ["Israel", [[34.3, 31.3], [35, 33], [35.8, 33], [35.5, 31.5], [35, 29.5]]],
  ["Cyprus", [[32.3, 35], [34.5, 35.6], [33, 34.6]]],
  ["Saudi", [[35, 29.5], [38, 30], [37.5, 31], [39, 32.2], [44.7, 29.2], [46.5, 29], [48, 28.5], [50, 26.5], [51, 24.5], [52, 23], [55, 22.5], [55, 20], [52, 19], [48.5, 18], [45, 17.4], [43, 16.5], [42.5, 16.5], [39, 21], [37, 25], [34.7, 28]]],
  ["Yemen", [[43, 16.5], [45, 17.4], [48.5, 18], [52, 19], [53, 16.7], [45, 12.8], [43.5, 12.7]]],
  ["Oman", [[52, 19], [55, 20], [55, 22.5], [56, 24.5], [58.5, 23.5], [59.8, 22.4], [57.7, 19], [55, 17], [53, 16.7]]],
  ["UAE", [[51, 24.5], [52, 23], [55, 22.5], [56, 24.5], [56.3, 26], [54, 24]]],
  ["Myanmar", [[92.3, 21], [92, 23.7], [93.5, 22.5], [95, 25], [97.3, 28.2], [98.7, 27.5], [97.7, 24], [99, 22], [101.3, 21.3], [100, 20.3], [97.7, 18], [98.5, 15], [99, 11], [98.3, 14], [97.5, 16.5], [95.5, 16], [94.2, 18]]],
  ["Thailand", [[100, 20.3], [100.5, 20.4], [104, 18], [105.5, 15.5], [102.5, 12], [101, 13], [100, 13.4], [99.5, 10], [100.5, 7], [101.5, 6], [100, 6.5], [98.3, 8], [99, 11], [98.5, 15], [97.7, 18]]],
  ["Laos", [[101.3, 21.3], [102, 22.4], [105, 20], [107.5, 15.5], [107.5, 14.5], [105.5, 14], [105.5, 15.5], [104, 18], [100.5, 20.4]]],
  ["Vietnam", [[102, 22.4], [105.3, 23.3], [106.7, 22.8], [108, 21.6], [105.7, 19], [108.8, 15.5], [109.2, 11.7], [106.8, 10.3], [105, 8.7], [104.9, 10.3], [107, 12], [107.5, 14.5], [107.5, 15.5], [105, 20]]],
  ["Cambodia", [[102.5, 12], [105.5, 14], [107.5, 14.5], [107, 12], [104.9, 10.3]]],
  ["Malaysia", [[100.5, 7], [102, 6.2], [103.4, 4], [104.2, 1.4], [101.3, 3], [100.3, 5.5]]],
  ["Malaysia", [[109.6, 1.5], [111.5, 2.5], [114, 4.5], [116.7, 7], [119, 5], [117.5, 4.2], [115.5, 3.5], [114, 1.5], [112, 1.2]]],
  ["Philippines", [[120.5, 18.5], [122.2, 18.4], [122, 16], [124, 13], [121, 13.7], [120, 16]]],
  ["Philippines", [[122, 7], [123.5, 8.5], [125.5, 9.7], [126.5, 7.5], [125.5, 5.7], [124, 6.5]]],
  ["Philippines", [[122, 11.8], [125.5, 12.5], [125, 10], [123, 9.5]]],
  ["Philippines", [[117.3, 8.5], [119.5, 11.3], [119.5, 10]]]
];

const oceaniaShapes = [
  ["Indonesia", [[109.6, 1.5], [112, 1.2], [114, 1.5], [115.5, 3.5], [117.5, 4.2], [118, 1], [116.5, -1.5], [116, -4], [113, -3.3], [110, -2.8], [109, 0]]],
  ["Indonesia", [[95.3, 5.5], [97.5, 5.2], [100.5, 2.2], [103.5, 0], [106, -3], [105.8, -5.8], [104, -5.5], [100.5, -1.5], [98, 2]]],
  ["Indonesia", [[105.3, -6.5], [108.5, -6.5], [112.8, -7], [114.4, -8], [110, -8], [106, -7.3]]],
  ["Indonesia", [[120, 1], [125, 1.5], [124, 0.5], [120.8, 0], [123, -1], [122, -4.5], [121, -3], [120.5, -5.5], [119.5, -5], [119.5, -2.5]]],
  ["Indonesia", [[131, -0.8], [134.5, -1], [137, -1.5], [141, -2.6], [141, -9], [138, -8.3], [138, -5.5], [133, -4], [132.5, -2.5]]],
  ["Indonesia", [[115, -8.3], [123, -8.3], [125, -8.8], [120, -9.5]]],
  ["Indonesia", [[127.5, 2], [128.5, 0], [127.8, -0.5]]],
  ["Indonesia", [[128, -3], [130.5, -3.2], [129, -3.5]]],
  ["Australia", [[114.2, -22], [116.8, -20.6], [122.2, -18], [122.5, -17], [126, -14], [129.5, -14.9], [130.8, -12.4], [135.5, -12], [136.8, -12.3], [135.5, -15], [140, -17.7], [141.7, -13], [142.5, -10.8], [145, -15], [146.3, -19], [149, -21], [153, -25.5], [153.5, -28], [152.5, -32.5], [150, -37], [146.3, -39], [143.5, -38.8], [140, -38], [138, -35.5], [137.7, -32.7], [135.7, -34.9], [134, -32.7], [131, -31.5], [126, -32.3], [124, -33], [120, -34], [115, -34.3], [115.7, -31.5], [113.5, -26]]],
  ["Australia", [[144.7, -40.7], [148.3, -40.9], [148, -42.5], [146.5, -43.6], [145.3, -42.5]]]
];

// Robinson table
const robinsonLat = [0, 5, 10, 15, 20, 25, 30, 35, 40, 45, 50, 55, 60, 65, 70, 75, 80, 85, 90];
const robinsonLen = [1, .9986, .9954, .99, .9822, .973, .96, .9427, .9216, .8962, .8679, .835, .7986, .7597, .7186, .6732, .6213, .5722, .5322];
const robinsonDrop = [0, .062, .124, .186, .248, .31, .372, .434, .4958, .5571, .6176, .6769, .7346, .7903, .8435, .8936, .9394, .9761, 1];

const svg = d3.select("#chart");

const lenScale = d3.scaleLinear().domain(robinsonLat).range(robinsonLen);
const dropScale = d3.scaleLinear().domain(robinsonLat).range(robinsonDrop);
const mapX = 677, mapY = 347, perDegree = 3.2, mapHalfHeight = 290;

const path = d3.geoPath(d3.geoTransform({
  point(lon, lat) {
    const a = Math.abs(lat);
    this.stream.point(mapX + lon * perDegree * lenScale(a), mapY - Math.sign(lat) * mapHalfHeight * dropScale(a));
  }
}));

// frame, only top and left show up
svg.append("path").attr("d", "M8,664V7H1299").attr("fill", "none")
  .attr("stroke", "#dcdcdc").attr("stroke-width", 2);

// map
const allShapes = [].concat(antarcticaShapes, northAmericaShapes, southAmericaShapes, europeShapes, africaShapes, asiaShapes, oceaniaShapes);
svg.append("g").attr("class", "map").selectAll("path")
  .data(allShapes)
  .join("path")
  .attr("d", d => path({ type: "Polygon", coordinates: [d[1].concat([d[1][0]])] }))
  .attr("fill", d => shadeByCountry[d[0]] || "#e0e0e0")
  .attr("stroke", "#fff")
  .attr("stroke-width", 0.8)
  .attr("stroke-linejoin", "round");

// title
svg.append("text").attr("x", 659).attr("y", 49).attr("text-anchor", "middle")
  .style("font-size", "24.4px").style("font-weight", 700).style("fill", "#595959")
  .text("Principales Destinos de las Exportaciones de Argentina");

// attribution
svg.append("text").attr("x", 1295).attr("y", 613).attr("text-anchor", "end")
  .style("font-size", "14px").style("fill", "#505050").text("Con tecnología de Bing");
svg.append("text").attr("x", 1294).attr("y", 633).attr("text-anchor", "end")
  .style("font-size", "14px").style("fill", "#505050").text("© GeoNames, MSFT, Microsoft, NavInfo, Navteq, Wikipedia");

// bars
const x = d3.scaleBand().domain(categories).range([51, 433]).paddingInner(0.63).paddingOuter(0.315);
const y = d3.scaleLinear().domain([0, 9307]).range([524, 203]);
const labelFormat = d3.formatLocale({ decimal: ",", thousands: ".", grouping: [3], currency: ["", ""] }).format(",");

const bars = svg.append("g").attr("class", "bars");
bars.selectAll("rect")
  .data(exportValues)
  .join("rect")
  .attr("x", (d, i) => x(categories[i]))
  .attr("y", d => y(d))
  .attr("width", x.bandwidth())
  .attr("height", d => y(0) - y(d))
  .attr("fill", (d, i) => barColors[i]);

bars.selectAll("text")
  .data(exportValues)
  .join("text")
  .attr("transform", (d, i) => `translate(${x(categories[i]) + x.bandwidth() / 2 + 6},${y(d) - 16}) rotate(-90)`)
  .style("font-size", "16px").style("fill", "#595959")
  .text(d => labelFormat(d));

const xAxis = svg.append("g").attr("class", "x-axis")
  .attr("transform", "translate(0,524)")
  .call(d3.axisBottom(x).tickSize(0).tickPadding(8));
xAxis.select(".domain").attr("stroke", "#595959").attr("stroke-width", 2);
xAxis.selectAll("text")
  .attr("transform", "rotate(-90)")
  .attr("x", -13).attr("y", 0).attr("dy", "0.35em")
  .attr("text-anchor", "end")
  .style("font-family", '"Open Sans", "Noto Sans", sans-serif')
  .style("font-size", "16px").style("fill", "#595959");

svg.append("text")
  .attr("transform", "translate(40,358) rotate(-90)")
  .attr("text-anchor", "middle")
  .style("font-size", "14px").style("fill", "#595959")
  .text("Millones de US$ FOB");
</script>
</body>
</html>
